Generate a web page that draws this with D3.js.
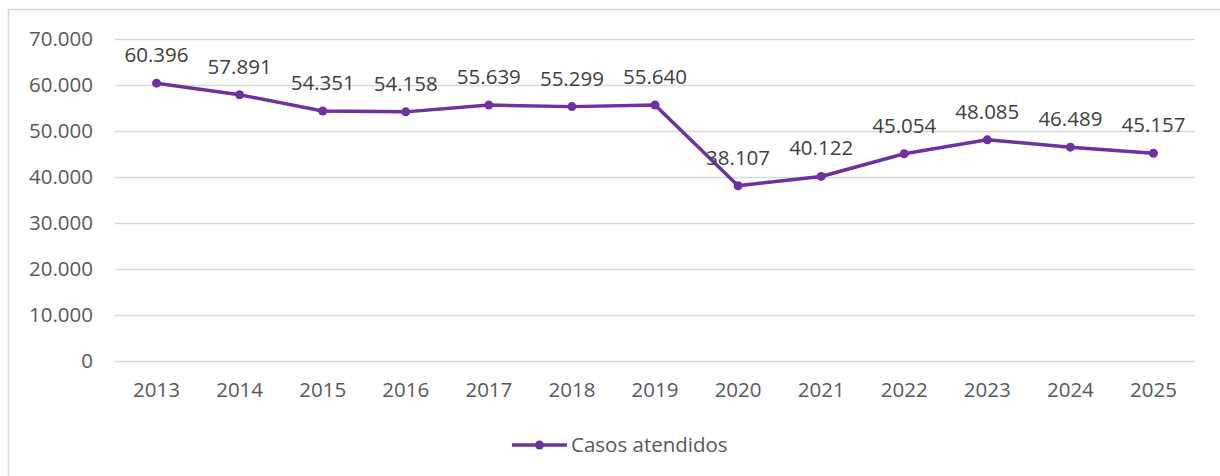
<!DOCTYPE html>
<html>
<head>
<meta charset="utf-8">
<script src="https://cdn.jsdelivr.net/npm/d3@7"></script>
<style>
  html, body { margin: 0; padding: 0; background: #fff; }
  svg { display: block; font-family: 'Open Sans', sans-serif; }
</style>
</head>
<body>
<script>
// chart data
const years = ['2013', '2014', '2015', '2016', '2017', '2018', '2019', '2020', '2021', '2022', '2023', '2024', '2025']
const casos = [60396, 57891, 54351, 54158, 55639, 55299, 55640, 38107, 40122, 45054, 48085, 46489, 45157]
const yTicks = [0, 10000, 20000, 30000, 40000, 50000, 60000, 70000]
const seriesName = 'Casos atendidos'

const width = 1220
const height = 476
const plot = { left: 115, right: 1195, top: 39, bottom: 361 }
const purple = '#7030a0'
const fontSize = 20.5

// es-ES style thousands separator
const fmt = d3.formatLocale({ decimal: ',', thousands: '.', grouping: [3], currency: ['', '€'] }).format(',')

const svg = d3.select('body').append('svg')
  .attr('width', width)
  .attr('height', height)

// outer chart border (runs off the right and bottom of the picture)
svg.append('rect')
  .attr('x', 8.5)
  .attr('y', 9.5)
  .attr('width', width + 10)
  .attr('height', height + 10)
  .attr('fill', 'none')
  .attr('stroke', '#d9d9d9')
  .attr('stroke-width', 1.5)

const x = d3.scaleBand()
  .domain(years)
  .range([plot.left, plot.right])

const y = d3.scaleLinear()
  .domain([0, 70000])
  .range([plot.bottom, plot.top])

// gridlines + y labels
const yAxis = svg.append('g')
  .attr('transform', `translate(${plot.left},0)`)
  .call(d3.axisLeft(y)
    .tickValues(yTicks)
    .tickFormat(d => fmt(d))
    .tickSize(-(plot.right - plot.left))
    .tickPadding(22))
yAxis.select('.domain').remove()
yAxis.selectAll('.tick line')
  .attr('stroke', '#d9d9d9')
  .attr('stroke-width', 1.3)
yAxis.selectAll('.tick text')
  .attr('fill', '#595959')
  .attr('font-size', fontSize)
  .attr('font-family', "'Open Sans', sans-serif")

// x labels
const xAxis = svg.append('g')
  .attr('transform', `translate(0,${plot.bottom})`)
  .call(d3.axisBottom(x).tickSize(0).tickPadding(21))
xAxis.select('.domain').remove()
xAxis.selectAll('.tick text')
  .attr('fill', '#595959')
  .attr('font-size', fontSize)
  .attr('font-family', "'Open Sans', sans-serif")

const cx = d => x(d) + x.bandwidth() / 2

const line = d3.line()
  .x((d, i) => cx(years[i]))
  .y(d => y(d))

svg.append('path')
  .datum(casos)
  .attr('d', line)
  .attr('fill', 'none')
  .attr('stroke', purple)
  .attr('stroke-width', 3.5)
  .attr('stroke-linejoin', 'round')

svg.append('g')
  .selectAll('circle')
  .data(casos)
  .join('circle')
  .attr('cx', (d, i) => cx(years[i]))
  .attr('cy', d => y(d))
  .attr('r', 4.5)
  .attr('fill', purple)

// data labels
svg.append('g')
  .selectAll('text')
  .data(casos)
  .join('text')
  .attr('x', (d, i) => cx(years[i]))
  .attr('y', d => y(d) - 21)
  .attr('text-anchor', 'middle')
  .attr('fill', '#404040')
  .attr('font-size', fontSize)
  .text(d => fmt(d))

// legend
const legend = svg.append('g').attr('transform', 'translate(512,445)')
legend.append('line')
  .attr('x1', 0).attr('x2', 55)
  .attr('stroke', purple)
  .attr('stroke-width', 3.5)
legend.append('circle')
  .attr('cx', 27.5)
  .attr('r', 4.5)
  .attr('fill', purple)
legend.append('text')
  .attr('x', 59)
  .attr('dy', '0.35em')
  .attr('fill', '#595959')
  .attr('font-size', fontSize)
  .text(seriesName)
</script>
</body>
</html>
